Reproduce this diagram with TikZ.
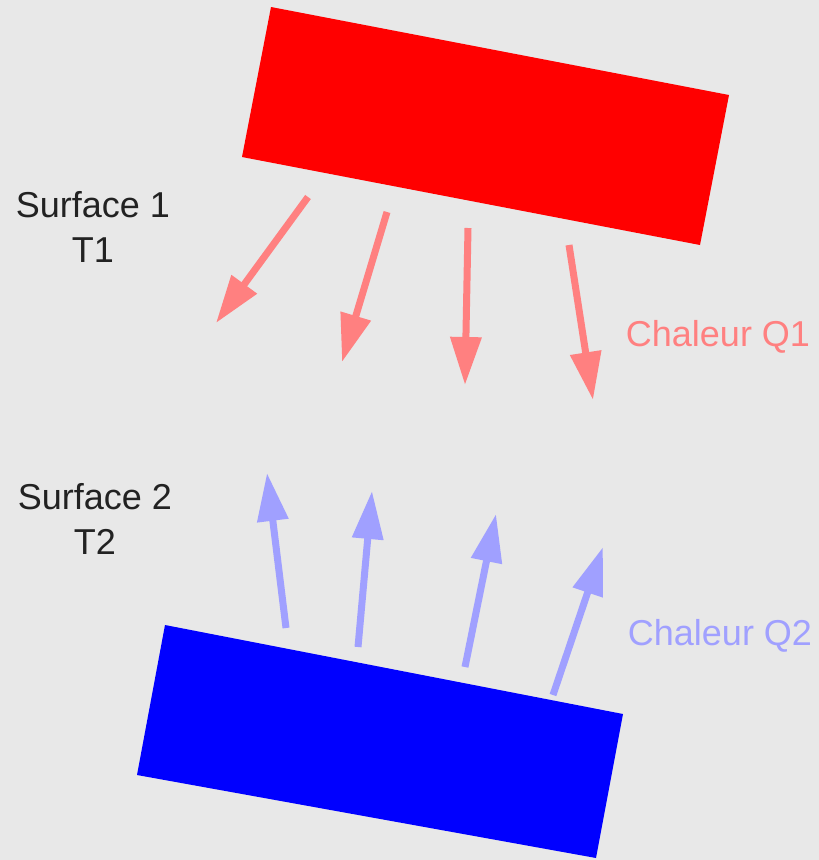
\documentclass[tikz,border=0pt]{standalone}
\usepackage{fontspec}
\setmainfont{Liberation Sans}
\usetikzlibrary{arrows.meta}
\definecolor{bg}{HTML}{E8E8E8}
\definecolor{hot}{HTML}{FF8080}
\definecolor{cold}{HTML}{A0A0FF}
\definecolor{ink}{HTML}{222222}
\tikzstyle{flux}=[line width=7pt, -{Triangle[length=48pt, width=30pt]}]
\tikzstyle{label}=[font=\fontsize{36}{45}\selectfont, align=center, inner sep=0pt]

\begin{document}
\begin{tikzpicture}[x=1pt, y=-1pt]
% Background
    \fill[bg] (0,0) rectangle (819,860);
    \useasboundingbox (0,0) rectangle (819,860);
% Plates
    \fill[red] (271,7) -- (729,95) -- (700,245) -- (242,157) -- cycle;
    \fill[blue] (165,625) -- (623,714) -- (596,858) -- (137,775) -- cycle;
% Heat from surface 1
    \draw[flux, hot] (308,197) -- (216,323);
    \draw[flux, hot] (387,212) -- (342,362);
    \draw[flux, hot] (468,228) -- (465,385);
    \draw[flux, hot] (569,245) -- (593,400);
% Heat from surface 2
    \draw[flux, cold] (286,628) -- (267,473);
    \draw[flux, cold] (358,647) -- (372,491);
    \draw[flux, cold] (465,667) -- (496,514);
    \draw[flux, cold] (553,695) -- (603,547);
% Labels
    \node[label, ink] (surf1) at (93,227) {Surface 1\\T1};
    \node[label, ink] (surf2) at (95,519) {Surface 2\\T2};
    \node[label, hot] (q1) at (718,337) {Chaleur Q1};
    \node[label, cold] (q2) at (720,636) {Chaleur Q2};
\end{tikzpicture}
\end{document}
